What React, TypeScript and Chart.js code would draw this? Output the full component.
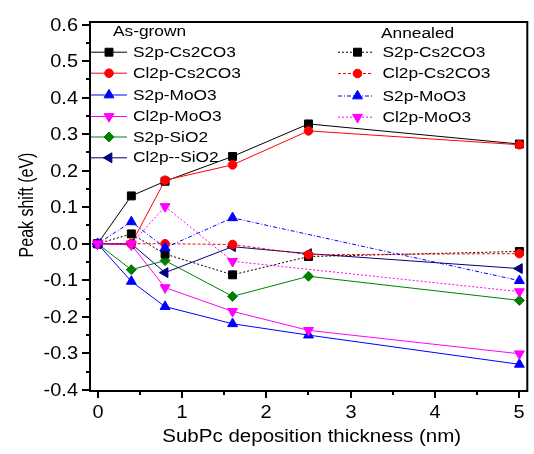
import React, { useEffect, useRef } from 'react';
import { Chart, registerables } from 'chart.js';
import { drawPoint } from 'chart.js/helpers';

Chart.register(...registerables);

// ---- data ----
const thickness = [0, 0.4, 0.8, 1.6, 2.5, 5];

const grownS_Cs = [0, 0.131, 0.171, 0.239, 0.328, 0.273];
const grownCl_Cs = [0, 0.0, 0.174, 0.216, 0.309, 0.271];
const grownS_Mo = [0, -0.103, -0.172, -0.219, -0.25, -0.33];
const grownCl_Mo = [0, -0.003, -0.12, -0.185, -0.237, -0.301];
const grownS_Si = [0, -0.071, -0.046, -0.144, -0.089, -0.155];
const grownCl_Si = [0, 0.0, -0.079, -0.008, -0.027, -0.068];

const annS_Cs = [0, 0.027, -0.028, -0.085, -0.035, -0.021];
const annCl_Cs = [0, 0.0, 0.0, -0.002, -0.03, -0.027];
const annS_Mo = [0, 0.06, -0.011, 0.071, null, -0.101];
const annCl_Mo = [0, 0.0, 0.102, -0.048, null, -0.131];

const grownLabels = ['S2p-Cs2CO3', 'Cl2p-Cs2CO3', 'S2p-MoO3', 'Cl2p-MoO3', 'S2p-SiO2', 'Cl2p--SiO2'];
const annealedLabels = ['S2p-Cs2CO3', 'Cl2p-Cs2CO3', 'S2p-MoO3', 'Cl2p-MoO3'];
const grownTitle = 'As-grown';
const annealedTitle = 'Annealed';

const xTicks = [0, 1, 2, 3, 4, 5];
const xMinorTicks = [0.5, 1.5, 2.5, 3.5, 4.5];
const yTicks = [-0.4, -0.3, -0.2, -0.1, 0.0, 0.1, 0.2, 0.3, 0.4, 0.5, 0.6];
const yMinorTicks = [-0.35, -0.25, -0.15, -0.05, 0.05, 0.15, 0.25, 0.35, 0.45, 0.55];

const xTitle = 'SubPc deposition thickness (nm)';
const yTitle = 'Peak shift (eV)';

// ---- styles ----
const FONT = '"Liberation Sans", Arial, sans-serif';
const SX = 1.14;

type Sty = { color: string; pointStyle: string; radius: number; rotation: number; dash: number[] };

const grownStyles: Sty[] = [
  { color: '#000000', pointStyle: 'rect', radius: 5.6, rotation: 0, dash: [] },
  { color: '#ff0000', pointStyle: 'circle', radius: 4.3, rotation: 0, dash: [] },
  { color: '#0000ff', pointStyle: 'triangle', radius: 5.7, rotation: 0, dash: [] },
  { color: '#ff00ff', pointStyle: 'triangle', radius: 5.7, rotation: 180, dash: [] },
  { color: '#008000', pointStyle: 'rectRot', radius: 5, rotation: 0, dash: [] },
  { color: '#000080', pointStyle: 'triangle', radius: 5.7, rotation: 270, dash: [] },
];
const annealedStyles: Sty[] = [
  { color: '#000000', pointStyle: 'rect', radius: 5.6, rotation: 0, dash: [2, 2] },
  { color: '#ff0000', pointStyle: 'circle', radius: 4.3, rotation: 0, dash: [3, 2] },
  { color: '#0000ff', pointStyle: 'triangle', radius: 5.7, rotation: 0, dash: [4, 2, 1, 2] },
  { color: '#ff00ff', pointStyle: 'triangle', radius: 5.7, rotation: 180, dash: [2, 2] },
];

function pts(vals: (number | null)[]) {
  const out: { x: number; y: number }[] = [];
  vals.forEach((v, i) => {
    if (v !== null) out.push({ x: thickness[i], y: v });
  });
  return out;
}

function mkDs(label: string, vals: (number | null)[], s: Sty, idx: number) {
  return {
    label,
    data: pts(vals),
    borderColor: s.color,
    backgroundColor: s.color,
    borderWidth: 1,
    borderDash: s.dash,
    pointStyle: s.pointStyle,
    pointRadius: s.radius,
    pointRotation: s.rotation,
    pointBorderWidth: 1,
    pointBackgroundColor: s.color,
    pointBorderColor: s.color,
    tension: 0,
    fill: false,
    clip: false as any,
    order: -idx,
  };
}

function txt(ctx: CanvasRenderingContext2D, s: string, x: number, y: number, size: number,
  align: CanvasTextAlign, baseline: CanvasTextBaseline, sx = SX) {
  ctx.save();
  ctx.font = `${size}px ${FONT}`;
  ctx.fillStyle = '#000';
  ctx.textAlign = align;
  ctx.textBaseline = baseline;
  ctx.translate(x, y);
  ctx.scale(sx, 1);
  ctx.fillText(s, 0, 0);
  ctx.restore();
}

const decorPlugin = {
  id: 'decor',
  afterDraw(chart: any) {
    const ctx: CanvasRenderingContext2D = chart.ctx;
    const { left, right, top, bottom } = chart.chartArea;
    const xs = chart.scales.x;
    const ys = chart.scales.y;

    ctx.save();
    ctx.strokeStyle = '#000';
    ctx.lineWidth = 2;
    // frame
    ctx.beginPath();
    ctx.moveTo(left, top);
    ctx.lineTo(right, top);
    ctx.lineTo(right, bottom);
    ctx.lineTo(left, bottom);
    ctx.closePath();
    ctx.stroke();

    // y ticks
    yTicks.forEach((v) => {
      const p = Math.round(ys.getPixelForValue(v));
      ctx.beginPath();
      ctx.moveTo(left - 8, p);
      ctx.lineTo(left, p);
      ctx.stroke();
      txt(ctx, v.toFixed(1), 78, p + 1, 17.5, 'right', 'middle');
    });
    yMinorTicks.forEach((v) => {
      const p = Math.round(ys.getPixelForValue(v));
      ctx.beginPath();
      ctx.moveTo(left - 4, p);
      ctx.lineTo(left, p);
      ctx.stroke();
    });
    // x ticks
    xTicks.forEach((v) => {
      const p = Math.round(xs.getPixelForValue(v));
      ctx.beginPath();
      ctx.moveTo(p, bottom);
      ctx.lineTo(p, bottom + 7);
      ctx.stroke();
      txt(ctx, String(v), p, 417.5, 17.5, 'center', 'alphabetic');
    });
    xMinorTicks.forEach((v) => {
      const p = Math.round(xs.getPixelForValue(v));
      ctx.beginPath();
      ctx.moveTo(p, bottom);
      ctx.lineTo(p, bottom + 4);
      ctx.stroke();
    });

    // axis titles
    txt(ctx, xTitle, (left + right) / 2 + 3, 441.5, 18, 'center', 'alphabetic');
    ctx.save();
    ctx.translate(33, 205);
    ctx.rotate(-Math.PI / 2);
    ctx.scale(0.82, 1);
    ctx.font = `19.5px ${FONT}`;
    ctx.fillStyle = '#000';
    ctx.textAlign = 'center';
    ctx.textBaseline = 'alphabetic';
    ctx.fillText(yTitle, 0, 0);
    ctx.restore();

    // legends
    const drawEntry = (label: string, s: Sty, y: number, x0: number, x1: number, mx: number, tx: number) => {
      ctx.save();
      ctx.strokeStyle = s.color;
      ctx.fillStyle = s.color;
      ctx.lineWidth = 1;
      ctx.setLineDash(s.dash);
      ctx.beginPath();
      ctx.moveTo(x0, y + 0.5);
      ctx.lineTo(x1, y + 0.5);
      ctx.stroke();
      ctx.setLineDash([]);
      drawPoint(ctx, { pointStyle: s.pointStyle as any, radius: s.radius, rotation: s.rotation, borderWidth: 1 } as any, mx, y + 0.5);
      ctx.restore();
      txt(ctx, label, tx, y + 1, 15.2, 'left', 'middle');
    };

    txt(ctx, grownTitle, 113, 32, 15.2, 'left', 'middle');
    const gy = [51.7, 72.7, 94.5, 116, 136.5, 157.3];
    grownLabels.forEach((l, i) => drawEntry(l, grownStyles[i], gy[i], left + 1, 127, 109, 133));

    txt(ctx, annealedTitle, 381, 34, 15.2, 'left', 'middle');
    const ay = [51.7, 73, 95.5, 116.7];
    annealedLabels.forEach((l, i) => drawEntry(l, annealedStyles[i], ay[i], 338, 373, 357.5, 382.5));

    ctx.restore();
  },
};

export default function App() {
  const ref = useRef<HTMLCanvasElement | null>(null);

  useEffect(() => {
    if (!ref.current) return;
    const grownVals = [grownS_Cs, grownCl_Cs, grownS_Mo, grownCl_Mo, grownS_Si, grownCl_Si];
    const annVals = [annS_Cs, annCl_Cs, annS_Mo, annCl_Mo];
    const datasets: any[] = [];
    grownVals.forEach((v, i) => datasets.push(mkDs(grownLabels[i], v, grownStyles[i], i)));
    annVals.forEach((v, i) => datasets.push(mkDs(annealedLabels[i], v, annealedStyles[i], 6 + i)));

    const chart = new Chart(ref.current, {
      type: 'line',
      data: { datasets },
      options: {
        animation: false,
        responsive: false,
        maintainAspectRatio: false,
        devicePixelRatio: 1,
        layout: { padding: { left: 90, top: 22, right: 1, bottom: 63 } },
        plugins: { legend: { display: false }, tooltip: { enabled: false } },
        scales: {
          x: { type: 'linear', min: -0.09, max: 5.094, display: false },
          y: { type: 'linear', min: -0.403, max: 0.607, display: false },
        },
      },
      plugins: [decorPlugin],
    });
    return () => chart.destroy();
  }, []);

  return (
    <div style={{ position: 'fixed', left: 0, top: 0, width: 534, height: 454, background: '#fff' }}>
      <canvas ref={ref} width={534} height={454} style={{ display: 'block' }} />
    </div>
  );
}
